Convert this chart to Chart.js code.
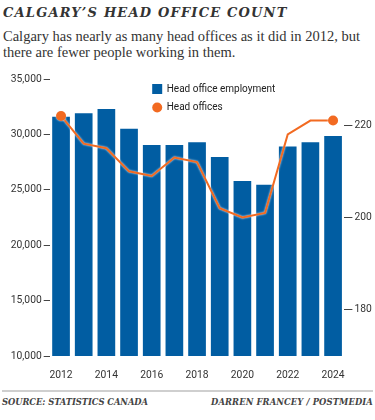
<!DOCTYPE html>
<html>
<head>
<meta charset="utf-8">
<script src="https://cdn.jsdelivr.net/npm/chart.js@4/dist/chart.umd.min.js"></script>
<style>
  html, body { margin: 0; padding: 0; background: #fff; }
  body { width: 375px; height: 420px; position: relative; overflow: hidden; }
  #title { position: absolute; left: 3px; top: 5px; font-family: "DejaVu Serif", serif; font-weight: bold; font-style: italic; font-size: 13px; letter-spacing: 1.2px; color: #333; white-space: nowrap; }
  #sub { position: absolute; left: 3px; top: 28px; font-family: "Liberation Serif", serif; font-size: 14.5px; line-height: 16px; color: #333; white-space: nowrap; }
  #wrap { position: absolute; left: 0; top: 60px; width: 375px; height: 325px; }
  #rule { position: absolute; left: 2px; width: 371px; top: 390px; height: 2px; background: #cfcfcf; }
  .foot { position: absolute; top: 397px; font-family: "DejaVu Serif", serif; font-weight: bold; font-style: italic; font-size: 8.4px; letter-spacing: 0px; color: #444; white-space: nowrap; display: inline-block; }
  #src { left: 2px; }
  #cred { right: 2px; }
</style>
</head>
<body>
<div id="title">CALGARY’S HEAD OFFICE COUNT</div>
<div id="sub">Calgary has nearly as many head offices as it did in 2012, but<br>there are fewer people working in them.</div>
<div id="wrap"><canvas id="c"></canvas></div>
<div id="rule"></div>
<div class="foot" id="src">SOURCE: STATISTICS CANADA</div>
<div class="foot" id="cred">DARREN FRANCEY / POSTMEDIA</div>
<script>
const years = ["2012","2013","2014","2015","2016","2017","2018","2019","2020","2021","2022","2023","2024"];
const employment = [31600, 31900, 32300, 30500, 29050, 29050, 29300, 27950, 25800, 25450, 28900, 29300, 29850];
const headOffices = [222, 216, 215, 210, 209, 213, 212, 202, 200, 201, 218, 221, 221];
const leftTicks = [10000, 15000, 20000, 25000, 30000, 35000];
const rightTicks = [180, 200, 220];
const seriesNames = ["Head office employment", "Head offices"];

const BLUE = "#015da2";
const ORANGE = "#f26a21";
const TXT = "#333";
const tickFont = { family: "Roboto", size: 10.3 };

// fit footer text widths by letter-spacing
function fitWidth(id, target) {
  const el = document.getElementById(id);
  el.style.letterSpacing = "0px";
  const w = el.getBoundingClientRect().width;
  const n = el.textContent.length;
  el.style.letterSpacing = ((target - w) / n) + "px";
}
fitWidth("src", 146);
fitWidth("cred", 162);

const legendPlugin = {
  id: "insideLegend",
  afterDraw(chart) {
    const ctx = chart.ctx;
    const a = chart.chartArea;
    const x0 = a.left + 102.5;
    const y0 = a.top + 5;
    ctx.save();
    ctx.fillStyle = BLUE;
    ctx.fillRect(x0, y0, 10, 10);
    ctx.fillStyle = ORANGE;
    ctx.beginPath();
    ctx.arc(x0 + 5, y0 + 23.5, 5, 0, Math.PI * 2);
    ctx.fill();
    ctx.fillStyle = "#222";
    ctx.font = "10px Roboto";
    ctx.textBaseline = "middle";
    ctx.fillText(seriesNames[0], x0 + 14.5, y0 + 5);
    ctx.fillText(seriesNames[1], x0 + 14.5, y0 + 23.5);
    ctx.restore();
  }
};

const haloPlugin = {
  id: "lineHalo",
  beforeDatasetDraw(chart, args) {
    if (chart.data.datasets[args.index].type === "line") {
      chart.ctx.save();
      chart.ctx.shadowColor = "rgba(255,255,255,0.9)";
      chart.ctx.shadowBlur = 2;
    }
  },
  afterDatasetDraw(chart, args) {
    if (chart.data.datasets[args.index].type === "line") {
      chart.ctx.restore();
    }
  }
};

new Chart(document.getElementById("c"), {
  data: {
    labels: years,
    datasets: [
      {
        type: "line",
        label: seriesNames[1],
        data: headOffices,
        yAxisID: "y1",
        borderColor: ORANGE,
        borderWidth: 2,
        tension: 0,
        pointRadius: (c) => (c.dataIndex === 0 || c.dataIndex === headOffices.length - 1) ? 5 : 0,
        pointBackgroundColor: ORANGE,
        pointBorderWidth: 0,
        order: 0
      },
      {
        type: "bar",
        label: seriesNames[0],
        data: employment,
        yAxisID: "y",
        backgroundColor: BLUE,
        barPercentage: 0.78,
        categoryPercentage: 1,
        order: 1
      }
    ]
  },
  options: {
    responsive: true,
    maintainAspectRatio: false,
    animation: false,
    layout: { padding: { top: 19, left: 0, right: 0, bottom: 0 } },
    plugins: { legend: { display: false }, tooltip: { enabled: false }, title: { display: false } },
    scales: {
      x: {
        grid: { display: false },
        border: { display: false },
        ticks: {
          autoSkip: false,
          maxRotation: 0,
          color: TXT,
          font: tickFont,
          padding: 5,
          callback: function(v, i) { return i % 2 === 0 ? years[i] : ""; }
        },
        afterFit(s) { s.height = 29; }
      },
      y: {
        position: "left",
        min: 10000,
        max: 35000,
        afterBuildTicks(s) { s.ticks = leftTicks.map(v => ({ value: v })); },
        grid: { drawOnChartArea: false, drawTicks: true, tickLength: 6, tickColor: "#444", tickWidth: 1 },
        border: { display: false },
        ticks: {
          color: TXT,
          font: tickFont,
          padding: 2,
          callback: (v) => v.toLocaleString("en-US")
        },
        afterFit(s) { s.width = 49.7; }
      },
      y1: {
        position: "right",
        min: 170,
        max: 230,
        afterBuildTicks(s) { s.ticks = rightTicks.map(v => ({ value: v })); },
        grid: { drawOnChartArea: false, drawTicks: true, tickLength: 8, tickColor: "#444", tickWidth: 1 },
        border: { display: false },
        ticks: { color: TXT, font: tickFont, padding: 2 },
        afterFit(s) { s.width = 30.6; }
      }
    }
  },
  plugins: [legendPlugin, haloPlugin]
});
</script>
</body>
</html>
